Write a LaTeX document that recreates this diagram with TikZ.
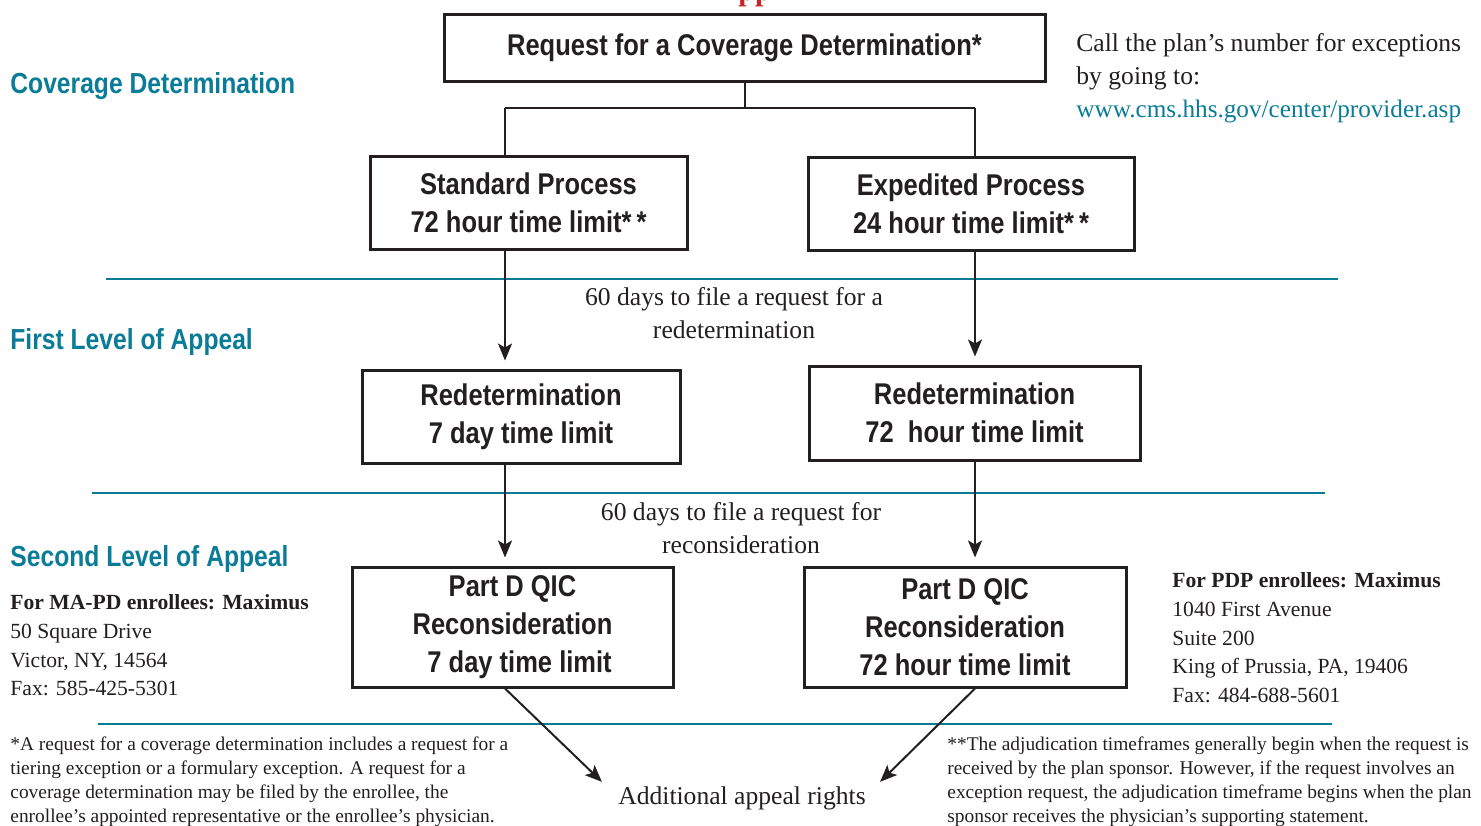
\documentclass[tikz,border=0pt]{standalone}
\usepackage{fontspec}
\setmainfont{Liberation Serif}
\newfontfamily\condfont{Liberation Sans}[FakeStretch=0.85]
\usetikzlibrary{arrows.meta}
\definecolor{cmsteal}{HTML}{0B7C97}
\definecolor{titlered}{HTML}{C1272D}
\definecolor{ink}{HTML}{231F20}
\newcommand{\apos}{{\char"0027}}
\tikzset{
  box/.style={draw=ink, line width=1.5pt, align=center, inner sep=0pt, text=ink,
    font=\condfont\bfseries\fontsize{15}{19}\selectfont},
  conn/.style={draw=ink, line width=1pt},
  arr/.style={conn, -{Stealth[length=8.5pt,width=7pt,inset=2pt]}},
  rule/.style={draw=cmsteal, line width=1.2pt},
  level/.style={anchor=base west, inner sep=0pt, text=cmsteal,
    font=\condfont\bfseries\fontsize{14.5}{17}\selectfont},
  bignote/.style={inner sep=0pt, text=ink, font=\fontsize{12.8}{16.5}\selectfont},
  addr/.style={anchor=north west, align=left, inner sep=0pt, text=ink,
    font=\fontsize{10.8}{14.4}\selectfont},
  foot/.style={anchor=north west, align=left, inner sep=0pt, text=ink,
    font=\fontsize{9.7}{12}\selectfont}
}
\begin{document}
\begin{tikzpicture}[x=0.5pt,y=-0.5pt]
\useasboundingbox (0,0) rectangle (1481,825);
% title, cut off at the top
\begin{scope}
\clip (0,0) rectangle (1481,825);
\node[anchor=base, inner sep=0pt, text=titlered, font=\bfseries\fontsize{15}{17}\selectfont] (title) at (755,0) {pp};
\end{scope}
% boxes
\node[box, minimum width=300.5pt, minimum height=33.5pt] (req) at (744.5,47.5) {Request for a Coverage Determination*};
\node[box, minimum width=158.5pt, minimum height=46.5pt] (std) at (528.5,202.5) {Standard Process\\72 hour time limit*\,*};
\node[box, minimum width=163pt, minimum height=46.5pt] (exp) at (971,203.5) {Expedited Process\\24 hour time limit*\,*};
\node[box, minimum width=159pt, minimum height=46.5pt] (redA) at (521,416.5) {Redetermination\\7 day time limit};
\node[box, minimum width=165.5pt, minimum height=47pt] (redB) at (974.5,413) {Redetermination\\72\ \ hour time limit};
\node[box, minimum width=160.5pt, minimum height=60pt] (qicA) at (512.5,627) {Part D QIC\\Reconsideration\\\ \ 7 day time limit};
\node[box, minimum width=161pt, minimum height=60pt] (qicB) at (965,627) {Part D QIC\\Reconsideration\\72 hour time limit};
% levels
\node[level] (lvlA) at (10,93) {Coverage Determination};
\node[level] (lvlB) at (10,349) {First Level of Appeal};
\node[level] (lvlC) at (10,566) {Second Level of Appeal};
% rules
\draw[rule] (106,279) -- (1338,279);
\draw[rule] (92,493) -- (1325,493);
\draw[rule] (98,724) -- (1332,724);
% connectors
\coordinate (sl) at (505,108);
\coordinate (sr) at (975,108);
\draw[conn] (req.south) -- (req.south |- sl);
\draw[conn] (sl) -- (sr);
\draw[conn] (sl) -- (sl |- std.north);
\draw[conn] (sr) -- (sr |- exp.north);
\draw[arr, shorten >=4pt] (sl |- std.south) -- (sl |- redA.north);
\draw[arr, shorten >=4pt] (sr |- exp.south) -- (sr |- redB.north);
\draw[arr, shorten >=4pt] (sl |- redA.south) -- (sl |- qicA.north);
\draw[arr, shorten >=4pt] (sr |- redB.south) -- (sr |- qicB.north);
\node[bignote, anchor=base] (addl) at (742,804) {Additional appeal rights};
\coordinate (tipA) at ([shift={(-16,-4)}]addl.north west);
\coordinate (tipB) at ([shift={(14,-4)}]addl.north east);
\draw[arr] (sl |- qicA.south) -- (tipA);
\draw[arr] (sr |- qicB.south) -- (tipB);
% notes
\node[bignote, anchor=north, align=center] (midA) at (734,287) {60 days to file a request for a\\redetermination};
\node[bignote, anchor=north, align=center] (midB) at (741,502) {60 days to file a request for\\reconsideration};
\node[bignote, anchor=north west, align=left] (call) at (1076,33) {Call the plan’s number for exceptions\\by going to:\\{\color{cmsteal}\fontsize{12.6}{16.5}\selectfont www.cms.hhs.gov/center/provider.asp}};
\node[addr] (mapd) at (10,594) {\textbf{For MA-PD enrollees: Maximus}\\50 Square Drive\\Victor, NY, 14564\\Fax: 585-425-5301};
\node[addr] (pdp) at (1172,572) {\textbf{For PDP enrollees: Maximus}\\1040 First Avenue\\Suite 200\\King of Prussia, PA, 19406\\Fax: 484-688-5601};
\node[foot] (footA) at (10,736) {*A request for a coverage determination includes a request for a\\tiering exception or a formulary exception. A request for a\\coverage determination may be filed by the enrollee, the\\enrollee\apos s appointed representative or the enrollee\apos s physician.};
\node[foot] (footB) at (947,736) {**The adjudication timeframes generally begin when the request is\\received by the plan sponsor. However, if the request involves an\\exception request, the adjudication timeframe begins when the plan\\sponsor receives the physician\apos s supporting statement.};
\end{tikzpicture}
\end{document}
